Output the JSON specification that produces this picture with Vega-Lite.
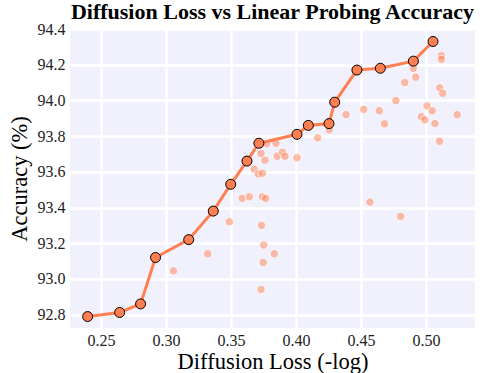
{
  "$schema": "https://vega.github.io/schema/vega-lite/v6.json",
  "autosize": {"type": "none"},
  "padding": {"left": 70, "top": 29, "right": 7, "bottom": 45},
  "width": 405,
  "height": 299,
  "background": "white",
  "title": {"text": "Diffusion Loss vs Linear Probing Accuracy", "font": "Liberation Serif", "fontSize": 22, "fontWeight": "bold", "color": "black", "anchor": "middle", "offset": -3},
  "config": {
    "view": {"fill": "#F1F1FE", "stroke": null}
  },
  "datasets": {
    "others": [
      {"loss": 0.3058, "acc": 93.045}, {"loss": 0.3321, "acc": 93.141}, {"loss": 0.3488, "acc": 93.32},
      {"loss": 0.3587, "acc": 93.451}, {"loss": 0.3641, "acc": 93.46}, {"loss": 0.3742, "acc": 93.46},
      {"loss": 0.3767, "acc": 93.451}, {"loss": 0.3735, "acc": 93.30}, {"loss": 0.3752, "acc": 93.19},
      {"loss": 0.3833, "acc": 93.141}, {"loss": 0.3748, "acc": 93.092}, {"loss": 0.3731, "acc": 92.941},
      {"loss": 0.3679, "acc": 93.615}, {"loss": 0.3710, "acc": 93.588}, {"loss": 0.3742, "acc": 93.592},
      {"loss": 0.3731, "acc": 93.702}, {"loss": 0.3762, "acc": 93.665}, {"loss": 0.3775, "acc": 93.758},
      {"loss": 0.3846, "acc": 93.76}, {"loss": 0.3856, "acc": 93.687}, {"loss": 0.3896, "acc": 93.71},
      {"loss": 0.3915, "acc": 93.687}, {"loss": 0.4008, "acc": 93.679}, {"loss": 0.4167, "acc": 93.79},
      {"loss": 0.4256, "acc": 93.836}, {"loss": 0.4385, "acc": 93.92}, {"loss": 0.4521, "acc": 93.95},
      {"loss": 0.4641, "acc": 93.942}, {"loss": 0.4681, "acc": 93.869}, {"loss": 0.4768, "acc": 93.999},
      {"loss": 0.4837, "acc": 94.10}, {"loss": 0.4921, "acc": 94.13}, {"loss": 0.4902, "acc": 94.18},
      {"loss": 0.5119, "acc": 94.25}, {"loss": 0.5119, "acc": 94.23}, {"loss": 0.5106, "acc": 94.07},
      {"loss": 0.5128, "acc": 94.04}, {"loss": 0.5008, "acc": 93.969}, {"loss": 0.5048, "acc": 93.942},
      {"loss": 0.4965, "acc": 93.909}, {"loss": 0.4991, "acc": 93.891}, {"loss": 0.5069, "acc": 93.87},
      {"loss": 0.524, "acc": 93.92}, {"loss": 0.5104, "acc": 93.771}, {"loss": 0.4569, "acc": 93.43},
      {"loss": 0.4805, "acc": 93.35}
    ],
    "front": [
      {"loss": 0.2398, "acc": 92.789}, {"loss": 0.2644, "acc": 92.812}, {"loss": 0.2805, "acc": 92.86},
      {"loss": 0.292, "acc": 93.12}, {"loss": 0.3175, "acc": 93.22}, {"loss": 0.3364, "acc": 93.38},
      {"loss": 0.3498, "acc": 93.53}, {"loss": 0.3623, "acc": 93.66}, {"loss": 0.3715, "acc": 93.76},
      {"loss": 0.4008, "acc": 93.81}, {"loss": 0.4095, "acc": 93.86}, {"loss": 0.4254, "acc": 93.87},
      {"loss": 0.4298, "acc": 93.99}, {"loss": 0.4469, "acc": 94.17}, {"loss": 0.4649, "acc": 94.18},
      {"loss": 0.4903, "acc": 94.22}, {"loss": 0.5054, "acc": 94.33}
    ]
  },
  "encoding": {
    "x": {"field": "loss", "type": "quantitative", "title": "Diffusion Loss (-log)",
      "scale": {"domain": [0.2262, 0.5377], "nice": false, "zero": false},
      "axis": {"values": [0.25, 0.3, 0.35, 0.4, 0.45, 0.5], "format": ".2f", "labelPadding": 4, "titlePadding": 2,
        "grid": true, "gridColor": "white", "gridWidth": 2.5, "domain": false, "ticks": false,
        "labelFont": "Liberation Serif", "labelFontSize": 16, "labelColor": "#222222",
        "titleFont": "Liberation Serif", "titleFontSize": 22.5, "titleFontWeight": "normal", "titleColor": "black"}},
    "y": {"field": "acc", "type": "quantitative", "title": "Accuracy (%)",
      "scale": {"domain": [92.725, 94.4], "nice": false, "zero": false},
      "axis": {"values": [92.8, 93.0, 93.2, 93.4, 93.6, 93.8, 94.0, 94.2, 94.4], "format": ".1f", "labelPadding": 5, "titlePadding": 6,
        "grid": true, "gridColor": "white", "gridWidth": 2.5, "domain": false, "ticks": false,
        "labelFont": "Liberation Serif", "labelFontSize": 16, "labelColor": "#222222",
        "titleFont": "Liberation Serif", "titleFontSize": 22.5, "titleFontWeight": "normal", "titleColor": "black"}}
  },
  "layer": [
    {"data": {"name": "others"}, "mark": {"type": "circle", "size": 70, "fill": "#FF7F50", "fillOpacity": 0.5, "stroke": "white", "strokeWidth": 1, "strokeOpacity": 0.8}},
    {"data": {"name": "front"}, "mark": {"type": "line", "color": "#FF7F50", "strokeWidth": 3}},
    {"data": {"name": "front"}, "mark": {"type": "circle", "size": 100, "fill": "#FF7F50", "fillOpacity": 1, "stroke": "black", "strokeWidth": 1}}
  ]
}
